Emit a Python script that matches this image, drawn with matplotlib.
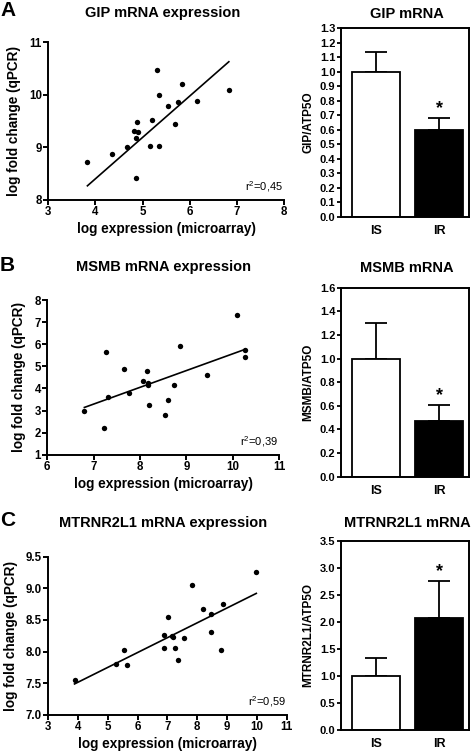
import numpy as np
import matplotlib
matplotlib.use("Agg")
import matplotlib.pyplot as plt
from matplotlib.ticker import FormatStrFormatter

plt.rcParams["font.family"] = ["Liberation Sans", "DejaVu Sans"]
plt.rcParams["mathtext.fontset"] = "custom"
plt.rcParams["mathtext.rm"] = "Liberation Sans"
plt.rcParams["mathtext.default"] = "regular"

# scatter data (log expression microarray vs log fold change qPCR)
gip_x = [3.83, 4.36, 4.66, 4.85, 4.82, 4.86, 4.88, 4.90, 5.19, 5.15,
         5.31, 5.34, 5.34, 5.54, 5.69, 5.75, 5.84, 6.16, 6.84]
gip_y = [8.72, 8.87, 9.00, 8.41, 9.32, 9.17, 9.48, 9.29, 9.52, 9.02,
         10.47, 10.00, 9.02, 9.78, 9.44, 9.87, 10.20, 9.88, 10.09]

msmb_x = [6.80, 7.22, 7.26, 7.32, 7.65, 7.77, 8.06, 8.15, 8.17, 8.17,
          8.20, 8.55, 8.60, 8.73, 8.86, 9.45, 10.10, 10.27, 10.27]
msmb_y = [2.96, 2.19, 5.63, 3.60, 4.89, 3.78, 4.32, 4.77, 4.23, 4.14,
          3.23, 2.78, 3.46, 4.14, 5.92, 4.61, 7.32, 5.72, 5.41]

mtr_x = [3.88, 5.28, 5.53, 5.65, 6.88, 6.88, 7.01, 7.16, 7.19, 7.26,
         7.35, 7.54, 7.82, 8.20, 8.46, 8.46, 8.81, 8.87, 9.97]
mtr_y = [7.55, 7.80, 8.02, 7.79, 8.27, 8.05, 8.55, 8.24, 8.23, 8.06,
         7.87, 8.21, 9.05, 8.67, 8.60, 8.31, 8.03, 8.75, 9.26]

# regression lines as drawn (end points)
gip_fit_x = [3.83, 6.83]
gip_fit_y = [8.27, 10.63]
msmb_fit_x = [6.80, 10.27]
msmb_fit_y = [3.14, 5.77]
mtr_fit_x = [3.88, 9.98]
mtr_fit_y = [7.49, 8.92]

r2_labels = ["0,45", "0,39", "0,59"]

# bar data (mean, upper error)
groups = ["IS", "IR"]
gip_bar = [1.00, 0.60]
gip_err = [0.14, 0.08]
msmb_bar = [1.00, 0.47]
msmb_err = [0.30, 0.14]
mtr_bar = [1.00, 2.08]
mtr_err = [0.33, 0.68]
star_idx = [1, 1, 1]

W, H = 472, 755
fig = plt.figure(figsize=(W / 100, H / 100), dpi=100)


def fy(px):
    # pixel row (from top) -> figure fraction
    return 1 - px / H


panels = [
    dict(letter="A", title="GIP mRNA expression", x=gip_x, y=gip_y, fx=gip_fit_x, fyv=gip_fit_y,
         xlim=(3, 8), ylim=(8, 11), xt=np.arange(3, 9), yt=np.arange(8, 12), yfmt="%d",
         pos=[0.1023, 0.7351, 0.4994, 0.2089], r2=r2_labels[0], base=17.5,
         btitle="GIP mRNA", bylabel="GIP/ATP5O", bar=gip_bar, err=gip_err,
         bylim=1.3, byt=np.arange(0, 1.31, 0.1), bpos=[0.7225, 0.7126, 0.2712, 0.2499]),
    dict(letter="B", title="MSMB mRNA expression", x=msmb_x, y=msmb_y, fx=msmb_fit_x, fyv=msmb_fit_y,
         xlim=(6, 11), ylim=(1, 8), xt=np.arange(6, 12), yt=np.arange(1, 9), yfmt="%d",
         pos=[0.1002, 0.3977, 0.4909, 0.2049], r2=r2_labels[1], base=271.5,
         btitle="MSMB mRNA", bylabel="MSMB/ATP5O", bar=msmb_bar, err=msmb_err,
         bylim=1.6, byt=np.arange(0, 1.61, 0.2), bpos=[0.7225, 0.3686, 0.2712, 0.2503]),
    dict(letter="C", title="MTRNR2L1 mRNA expression", x=mtr_x, y=mtr_y, fx=mtr_fit_x, fyv=mtr_fit_y,
         xlim=(3, 11), ylim=(7, 9.5), xt=np.arange(3, 12), yt=np.arange(7, 9.51, 0.5), yfmt="%.1f",
         pos=[0.1023, 0.0530, 0.5051, 0.2097], r2=r2_labels[2], base=527,
         btitle="MTRNR2L1 mRNA", bylabel="MTRNR2L1/ATP5O", bar=mtr_bar, err=mtr_err,
         bylim=3.5, byt=np.arange(0, 3.51, 0.5), bpos=[0.7225, 0.0331, 0.2712, 0.2507]),
]

for n, p in enumerate(panels):
    ax = fig.add_axes(p["pos"])
    ax.scatter(p["x"], p["y"], s=15, color="black", zorder=3, clip_on=False, linewidths=0)
    ax.plot(p["fx"], p["fyv"], color="black", lw=1.2)
    ax.set_xlim(*p["xlim"])
    ax.set_ylim(*p["ylim"])
    ax.set_xticks(p["xt"])
    ax.set_yticks(p["yt"])
    ax.yaxis.set_major_formatter(FormatStrFormatter(p["yfmt"]))
    for s in ["top", "right"]:
        ax.spines[s].set_visible(False)
    for s in ["left", "bottom"]:
        ax.spines[s].set_linewidth(1.4)
    ax.tick_params(direction="out", length=3.5, width=1.4, labelsize=8.3, pad=1)
    for lab in ax.get_xticklabels() + ax.get_yticklabels():
        lab.set_fontweight("bold")
    ax.set_xlabel("log expression (microarray)", fontsize=9.8, fontweight="bold", labelpad=3)
    ax.set_ylabel("log fold change (qPCR)", fontsize=9.8, fontweight="bold", labelpad=6)
    ax.text(0.995, 0.04, "r$^2$=" + p["r2"], transform=ax.transAxes,
            ha="right", va="bottom", fontsize=8)
    fig.text(163 / W, fy(p["base"]), p["title"], fontsize=10.5, fontweight="bold",
             ha="center", va="baseline")
    fig.text(0.0, fy(p["base"] - 1), p["letter"], fontsize=15,
             fontweight="bold", ha="left", va="baseline")

    # bar chart
    bx = fig.add_axes(p["bpos"])
    xpos = np.arange(len(groups))
    bx.bar(xpos, p["bar"], width=0.76, color=["white", "black"], edgecolor="black",
           linewidth=1.3, zorder=2)
    bx.errorbar(xpos, p["bar"], yerr=[np.zeros(2), p["err"]], fmt="none",
                ecolor="black", elinewidth=1.3, capsize=8, capthick=1.3, zorder=1)
    i = star_idx[n]
    bx.text(xpos[i], p["bar"][i] + p["err"][i] + p["bylim"] * 0.005, "*",
            ha="center", va="bottom", fontsize=13, fontweight="bold")
    bx.set_xlim(-0.556, 1.476)
    bx.set_ylim(0, p["bylim"])
    bx.set_yticks(p["byt"])
    bx.yaxis.set_major_formatter(FormatStrFormatter("%.1f"))
    bx.set_xticks(xpos)
    bx.set_xticklabels(groups)
    for s in bx.spines.values():
        s.set_linewidth(1.4)
    bx.tick_params(axis="y", direction="out", length=3, width=1.3, labelsize=8, pad=1)
    bx.tick_params(axis="x", length=0, labelsize=9, pad=6)
    for lab in bx.get_xticklabels() + bx.get_yticklabels():
        lab.set_fontweight("bold")
    bx.set_ylabel(p["bylabel"], fontsize=8.5, fontweight="bold", labelpad=4)
    fig.text(407 / W, fy(p["base"]), p["btitle"], fontsize=10.5, fontweight="bold",
             ha="center", va="baseline")

fig.savefig("out.png", dpi=100)
